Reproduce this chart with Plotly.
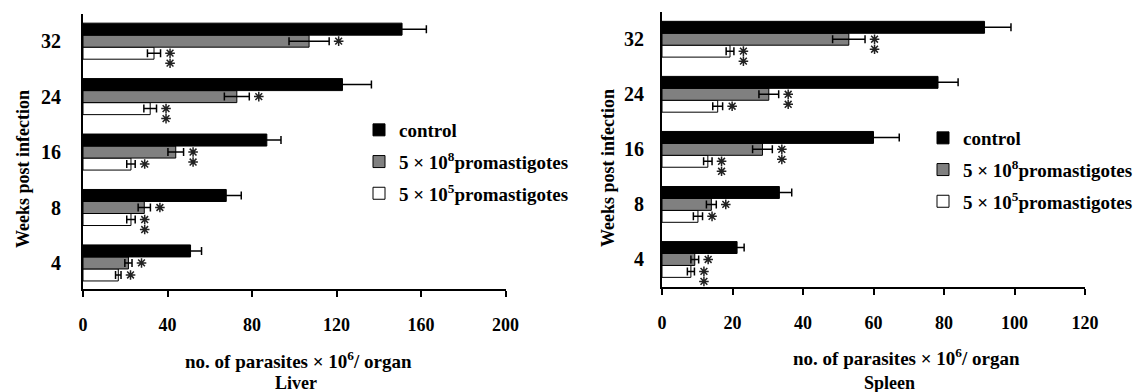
import plotly.graph_objects as go

# ---------------- data ----------------
weeks = ["4", "8", "16", "24", "32"]
series_names = ["control",
                "5 × 10<sup>8</sup>promastigotes",
                "5 × 10<sup>5</sup>promastigotes"]

liver_control = [50.9, 67.8, 87.0, 122.8, 151.0]
liver_control_err = [5.2, 7.1, 6.7, 13.7, 11.5]
liver_high = [21.5, 29.0, 43.9, 72.8, 107.0]
liver_high_err = [1.7, 2.9, 3.7, 5.9, 9.5]
liver_low = [16.7, 22.7, 22.7, 31.8, 33.6]
liver_low_err = [1.3, 2.0, 2.0, 3.0, 3.1]
liver_high_stars = [1, 1, 2, 1, 1]
liver_low_stars = [1, 2, 1, 2, 2]

spleen_control = [21.3, 33.3, 60.0, 78.3, 91.5]
spleen_control_err = [2.0, 3.5, 7.3, 5.7, 7.5]
spleen_high = [9.3, 14.0, 28.5, 30.3, 53.0]
spleen_high_err = [1.1, 1.4, 2.8, 2.8, 4.6]
spleen_low = [8.2, 10.2, 13.0, 15.8, 19.3]
spleen_low_err = [1.0, 1.3, 1.2, 1.4, 1.1]
spleen_high_stars = [1, 1, 2, 2, 2]
spleen_low_stars = [2, 1, 2, 1, 2]

liver_ticks = [0, 40, 80, 120, 160, 200]
spleen_ticks = [0, 20, 40, 60, 80, 100, 120]

# ---------------- layout helpers ----------------
W, H = 1135, 392
FONT = "Liberation Serif"
ypos = list(range(len(weeks)))

def px_x(p):
    return p / W

def px_y(p):
    return 1 - p / H

panels = [
    dict(name="Liver", xa="x", ya="y", legend="legend",
         control=liver_control, control_err=liver_control_err,
         high=liver_high, high_err=liver_high_err,
         low=liver_low, low_err=liver_low_err,
         high_stars=liver_high_stars, low_stars=liver_low_stars,
         xrange=[0, 200], ticks=liver_ticks,
         dom_x=(83, 505.6), dom_y=(14, 289), yrange=[-0.47, 4.49]),
    dict(name="Spleen", xa="x2", ya="y2", legend="legend2",
         control=spleen_control, control_err=spleen_control_err,
         high=spleen_high, high_err=spleen_high_err,
         low=spleen_low, low_err=spleen_low_err,
         high_stars=spleen_high_stars, low_stars=spleen_low_stars,
         xrange=[0, 120], ticks=spleen_ticks,
         dom_x=(662, 1085), dom_y=(11.7, 287), yrange=[-0.5, 4.5]),
]

BARGAP = 0.35
bar_w = (1 - BARGAP) / 3

fig = go.Figure()

for pi, p in enumerate(panels):
    specs = [
        (series_names[2], p["low"], p["low_err"], "white", 3),
        (series_names[1], p["high"], p["high_err"], "#808080", 2),
        (series_names[0], p["control"], p["control_err"], "black", 1),
    ]
    for name, vals, errs, col, rank in specs:
        fig.add_trace(go.Bar(
            y=ypos, x=vals, orientation="h", name=name,
            marker=dict(color=col, line=dict(color="black", width=1)),
            error_x=dict(type="data", array=errs, symmetric=True,
                         color="black", thickness=1.5, width=4),
            xaxis=p["xa"], yaxis=p["ya"], legend=p["legend"],
            legendgroup=f"{p['name']}-{rank}", legendrank=rank,
            hoverinfo="skip",
        ))
    # significance stars
    units_per_px = (p["xrange"][1] - p["xrange"][0]) / (p["dom_x"][1] - p["dom_x"][0])
    group_span_px = (p["dom_y"][1] - p["dom_y"][0]) / (p["yrange"][1] - p["yrange"][0])
    dy = 10 / group_span_px
    gap = 9.5 * units_per_px
    sx, sy = [], []
    for vals, errs, counts, off in [(p["high"], p["high_err"], p["high_stars"], 0.0),
                                    (p["low"], p["low_err"], p["low_stars"], -bar_w)]:
        for i in range(len(weeks)):
            for k in range(counts[i]):
                sx.append(vals[i] + errs[i] + gap)
                sy.append(ypos[i] + off - k * dy)
    fig.add_trace(go.Scatter(
        x=sx, y=sy, mode="markers",
        marker=dict(symbol="asterisk-open", size=8, color="#222",
                    line=dict(color="#222", width=1.5)),
        xaxis=p["xa"], yaxis=p["ya"], showlegend=False, hoverinfo="skip",
    ))

axis_common = dict(showgrid=False, zeroline=False, showline=True,
                   linecolor="black", linewidth=2, automargin=False)

layout = dict(
    width=W, height=H,
    margin=dict(l=0, r=0, t=0, b=0, autoexpand=False),
    paper_bgcolor="white", plot_bgcolor="rgba(0,0,0,0)",
    barmode="group", bargap=BARGAP, bargroupgap=0,
    font=dict(family=FONT, color="black", size=17, weight="bold"),
    showlegend=True,
)

annotations = []
for pi, p in enumerate(panels):
    sfx = "" if pi == 0 else "2"
    layout["xaxis" + sfx] = dict(
        **axis_common,
        domain=[px_x(p["dom_x"][0]), px_x(p["dom_x"][1])],
        anchor="y" + sfx, range=p["xrange"],
        tickmode="array", tickvals=p["ticks"],
        ticktext=[str(t) for t in p["ticks"]],
        ticks="outside", ticklen=6, tickwidth=2, tickcolor="black",
        ticklabelstandoff=12,
        tickfont=dict(family=FONT, size=18, weight="bold"),
    )
    layout["yaxis" + sfx] = dict(
        **axis_common,
        domain=[px_y(p["dom_y"][1]), px_y(p["dom_y"][0])],
        anchor="x" + sfx, range=p["yrange"],
        tickmode="array", tickvals=ypos, ticktext=weeks,
        ticks="", ticklabelstandoff=16 if pi == 0 else 12,
        tickfont=dict(family=FONT, size=20, weight="bold"),
    )

# legends
layout["legend"] = dict(
    x=px_x(359), y=px_y(111), xanchor="left", yanchor="top",
    traceorder="grouped", tracegroupgap=4,
    bgcolor="rgba(0,0,0,0)", font=dict(family=FONT, size=19, weight="bold"),
)
layout["legend2"] = dict(
    x=px_x(923), y=px_y(119), xanchor="left", yanchor="top",
    traceorder="grouped", tracegroupgap=4,
    bgcolor="rgba(0,0,0,0)", font=dict(family=FONT, size=19, weight="bold"),
)

# axis titles and panel names
annotations += [
    dict(text="no. of parasites × 10<sup>6</sup>/ organ", x=px_x(298), y=px_y(360),
         xref="paper", yref="paper", showarrow=False, xanchor="center", yanchor="middle",
         font=dict(family=FONT, size=19, weight="bold")),
    dict(text="Liver", x=px_x(296), y=px_y(383),
         xref="paper", yref="paper", showarrow=False, xanchor="center", yanchor="middle",
         font=dict(family=FONT, size=18, weight="bold")),
    dict(text="no. of parasites × 10<sup>6</sup>/ organ", x=px_x(906), y=px_y(357),
         xref="paper", yref="paper", showarrow=False, xanchor="center", yanchor="middle",
         font=dict(family=FONT, size=19, weight="bold")),
    dict(text="Spleen", x=px_x(889), y=px_y(383),
         xref="paper", yref="paper", showarrow=False, xanchor="center", yanchor="middle",
         font=dict(family=FONT, size=18, weight="bold")),
    dict(text="Weeks post infection", x=px_x(23), y=px_y(169), textangle=-90,
         xref="paper", yref="paper", showarrow=False, xanchor="center", yanchor="middle",
         font=dict(family=FONT, size=18, weight="bold")),
    dict(text="Weeks post infection", x=px_x(608), y=px_y(168), textangle=-90,
         xref="paper", yref="paper", showarrow=False, xanchor="center", yanchor="middle",
         font=dict(family=FONT, size=18, weight="bold")),
]
layout["annotations"] = annotations

fig.update_layout(**layout)
fig.write_html("out.html", config={"displayModeBar": False},
               post_script="document.body.style.margin='0';document.body.style.overflow='hidden';")
